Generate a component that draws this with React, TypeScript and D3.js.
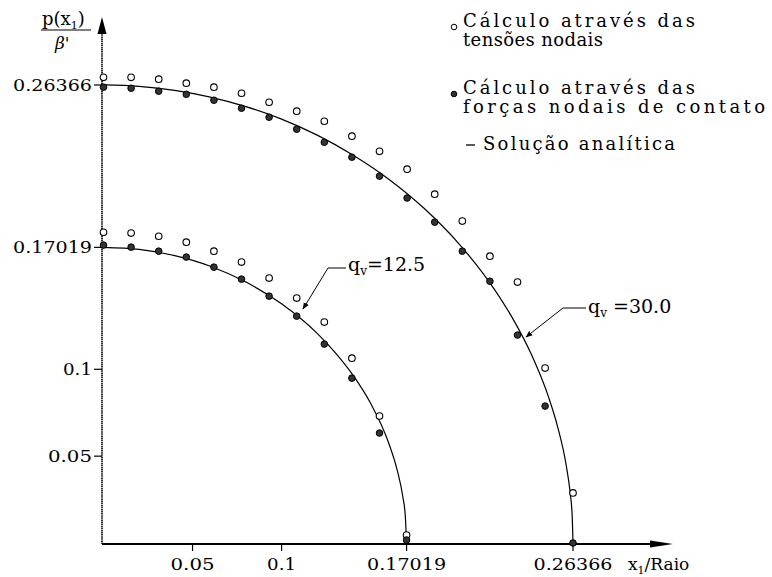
import React from 'react';
import * as d3 from 'd3';

// nodal positions (x1/Raio) for the two meshes
const xLarge = [0, 0.0155, 0.031, 0.0465, 0.062, 0.0775, 0.093, 0.1085, 0.124, 0.1395, 0.155, 0.1705, 0.186, 0.2015, 0.217, 0.2325, 0.248, 0.26366];
const tensoesLarge = [0.2681, 0.2681, 0.267, 0.2647, 0.2624, 0.2589, 0.2537, 0.2486, 0.2428, 0.2342, 0.2255, 0.2152, 0.2008, 0.1853, 0.1651, 0.1502, 0.1007, 0.0288];
const forcasLarge = [0.2624, 0.2618, 0.2601, 0.2583, 0.2549, 0.2503, 0.2451, 0.2382, 0.2307, 0.2221, 0.2112, 0.1986, 0.1847, 0.168, 0.1507, 0.1197, 0.0788, 0.0];

const xSmall = [0, 0.0155, 0.031, 0.0465, 0.062, 0.0775, 0.093, 0.1085, 0.124, 0.1395, 0.155, 0.17019];
const tensoesSmall = [0.1789, 0.1784, 0.1766, 0.1732, 0.168, 0.1617, 0.1525, 0.141, 0.1272, 0.1064, 0.0731, 0.0046];
const forcasSmall = [0.1715, 0.1703, 0.168, 0.1646, 0.1588, 0.1519, 0.1421, 0.1306, 0.1145, 0.0949, 0.0633, 0.0017];

// analytical solution
const anaLargeX = [0, 0.02, 0.04, 0.06, 0.08, 0.1, 0.12, 0.14, 0.16, 0.18, 0.2, 0.22, 0.23, 0.24, 0.25, 0.255, 0.26, 0.262, 0.2632, 0.26366];
const anaLargeY = [0.2637, 0.2629, 0.2606, 0.2567, 0.2512, 0.244, 0.2348, 0.2234, 0.2096, 0.1927, 0.1718, 0.1453, 0.1289, 0.1092, 0.0838, 0.067, 0.0438, 0.0295, 0.0156, 0];
const anaSmallX = [0, 0.02, 0.04, 0.06, 0.08, 0.1, 0.12, 0.13, 0.14, 0.15, 0.16, 0.165, 0.168, 0.1695, 0.17019];
const anaSmallY = [0.1702, 0.169, 0.1654, 0.1593, 0.1502, 0.1377, 0.1207, 0.1098, 0.0968, 0.0804, 0.058, 0.0417, 0.0272, 0.0153, 0];

const xTicks = [0.05, 0.1, 0.17019, 0.26366];
const yTicks = [0.05, 0.1, 0.17019, 0.26366];
const tickLabels = ['0.05', '0.1', '0.17019', '0.26366'];

const legendItems = [
  { marker: 'open', lines: ['Cálculo através das', 'tensões nodais'] },
  { marker: 'filled', lines: ['Cálculo através das', 'forças nodais de contato'] },
  { marker: 'dash', lines: ['Solução analítica'] },
];

const serif = '"DejaVu Serif", "Liberation Serif", serif';
const labelWidth = (s: string) => (s.length <= 3 ? 29 : s.length === 4 ? 44 : 79);

export default function App() {
  const W = 772, H = 577;
  const x = d3.scaleLinear().domain([0, 0.26366]).range([103.5, 573]);
  const y = d3.scaleLinear().domain([0, 0.26366]).range([543, 85]);
  const x0 = 102, y0 = 544;

  const line = d3.line<[number, number]>()
    .x(d => x(d[0]))
    .y(d => y(d[1]))
    .curve(d3.curveMonotoneX);

  const pairs = (xs: number[], ys: number[]) => xs.map((v, i) => [v, ys[i]] as [number, number]);

  const legendY = [27, 94, 150];
  const legendW = [[232, 140], [232, 302], [192]];

  return (
    <div style={{ position: 'fixed', left: 0, top: 0 }}>
      <svg width={W} height={H} style={{ display: 'block', background: '#fff' }}>
        <defs>
          <marker id="tip" viewBox="0 0 10 10" refX="9" refY="5" markerWidth="7" markerHeight="7" orient="auto">
            <path d="M0,1 L10,5 L0,9 z" fill="#000" />
          </marker>
        </defs>

        {/* axes */}
        <line x1={x0} y1={y0} x2={x0} y2={34} stroke="#000" strokeWidth={1.6} strokeDasharray="1.5 0.6" />
        <path d={`M${x0},17 L${x0 - 4.5},34 L${x0 + 4.5},34 Z`} fill="#000" />
        <line x1={x0} y1={y0} x2={652} y2={y0} stroke="#000" strokeWidth={1.8} />
        <path d={`M673,${y0} L650,${y0 - 3.5} L650,${y0 + 3.5} Z`} fill="#000" />

        {xTicks.map((t, i) => (
          <g key={'xt' + t}>
            <line x1={x(t)} x2={x(t)} y1={y0} y2={y0 + 7} stroke="#000" strokeWidth={1.2} />
            <text x={x(t) - labelWidth(tickLabels[i]) / 2} y={570} fontFamily={serif} fontSize={17}
              textLength={labelWidth(tickLabels[i])} lengthAdjust="spacingAndGlyphs">{tickLabels[i]}</text>
          </g>
        ))}
        <text x={628} y={570} fontFamily={serif} fontSize={17}>
          x<tspan fontSize={11} dy={4}>1</tspan><tspan dy={-4}>/Raio</tspan>
        </text>

        {yTicks.map((t, i) => (
          <g key={'yt' + t}>
            <line x1={x0 - 8} x2={x0} y1={y(t)} y2={y(t)} stroke="#000" strokeWidth={1.2} />
            <text x={x0 - 10 - labelWidth(tickLabels[i])} y={y(t) + 6} fontFamily={serif} fontSize={17}
              textLength={labelWidth(tickLabels[i])} lengthAdjust="spacingAndGlyphs">{tickLabels[i]}</text>
          </g>
        ))}

        {/* y axis title */}
        <text x={42} y={25} fontFamily={serif} fontSize={18}>
          p(x<tspan fontSize={11} dy={4}>1</tspan><tspan dy={-4}>)</tspan>
        </text>
        <line x1={41} x2={91} y1={30} y2={30} stroke="#000" strokeWidth={1.2} />
        <text x={55} y={49} fontFamily={serif} fontSize={17} fontStyle="italic">β'</text>

        {/* analytical curves */}
        <path d={line(pairs(anaLargeX, anaLargeY)) || ''} fill="none" stroke="#000" strokeWidth={1.2} />
        <path d={line(pairs(anaSmallX, anaSmallY)) || ''} fill="none" stroke="#000" strokeWidth={1.2} />

        {/* nodal results */}
        {[pairs(xLarge, tensoesLarge), pairs(xSmall, tensoesSmall)].map((s, k) =>
          s.map((d, i) => (
            <circle key={`o${k}-${i}`} cx={x(d[0])} cy={y(d[1])} r={3.3} fill="#fff" stroke="#000" strokeWidth={1.1} />
          ))
        )}
        {[pairs(xLarge, forcasLarge), pairs(xSmall, forcasSmall)].map((s, k) =>
          s.map((d, i) => (
            <circle key={`f${k}-${i}`} cx={x(d[0])} cy={y(d[1])} r={3.3} fill="#333" stroke="#000" strokeWidth={1} />
          ))
        )}

        {/* annotations */}
        <path d="M346,268 L328,268 L303,309" fill="none" stroke="#000" strokeWidth={1} markerEnd="url(#tip)" />
        <text x={348} y={271} fontFamily={serif} fontSize={19}>
          q<tspan fontSize={12} dy={4}>v</tspan><tspan dy={-4}>=12.5</tspan>
        </text>
        <path d="M586,308 L563,308 L526,337" fill="none" stroke="#000" strokeWidth={1} markerEnd="url(#tip)" />
        <text x={588} y={313} fontFamily={serif} fontSize={19}>
          q<tspan fontSize={12} dy={4}>v</tspan><tspan dy={-4}> =30.0</tspan>
        </text>

        {/* legend */}
        {legendItems.map((it, i) => (
          <g key={'lg' + i}>
            {it.marker === 'open' && <circle cx={454} cy={legendY[i]} r={2.8} fill="#fff" stroke="#000" strokeWidth={1} />}
            {it.marker === 'filled' && <circle cx={454} cy={legendY[i]} r={2.8} fill="#333" stroke="#000" strokeWidth={1} />}
            {it.marker === 'dash' && <line x1={466} x2={475} y1={legendY[i] - 5} y2={legendY[i] - 5} stroke="#000" strokeWidth={1.3} />}
            {it.lines.map((t, j) => (
              <text key={j} x={it.marker === 'dash' ? 483 : 463} y={legendY[i] + j * 19} fontFamily={serif} fontSize={18}
                textLength={legendW[i][j]} lengthAdjust="spacing">{t}</text>
            ))}
          </g>
        ))}
      </svg>
    </div>
  );
}
